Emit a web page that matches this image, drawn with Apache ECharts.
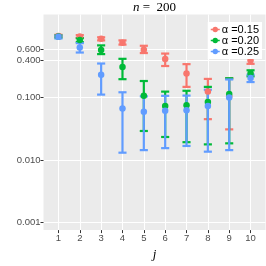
<!DOCTYPE html>
<html><head><meta charset="utf-8">
<script src="https://cdn.jsdelivr.net/npm/echarts@6/dist/echarts.min.js"></script>
<style>html,body{margin:0;padding:0;background:#fff}#c{width:266px;height:266px}</style>
</head><body><div id="c"></div>
<script>
const jValues = [1, 2, 3, 4, 5, 6, 7, 8, 9, 10];
const seriesNames = ['α =0.15', 'α =0.20', 'α =0.25'];
const seriesColors = ['#F8766D', '#00BA38', '#619CFF'];
const yTickValues = [0.001, 0.01, 0.1, 0.4, 0.6];

const a15_mid = [0.98, 0.96, 0.88, 0.76, 0.59, 0.417, 0.245, 0.126, 0.105, 0.40];
const a15_lo  = [0.95, 0.91, 0.83, 0.71, 0.52, 0.322, 0.149, 0.0452, 0.031, 0.349];
const a15_hi  = [1.02, 1.01, 0.93, 0.83, 0.68, 0.51, 0.345, 0.20, 0.205, 0.46];

const a20_mid = [0.96, 0.84, 0.58, 0.31, 0.107, 0.0735, 0.0753, 0.0856, 0.115, 0.245];
const a20_lo  = [0.92, 0.78, 0.50, 0.198, 0.0292, 0.0234, 0.0193, 0.0178, 0.0185, 0.22];
const a20_hi  = [1.00, 0.90, 0.69, 0.42, 0.185, 0.125, 0.129, 0.149, 0.205, 0.275];

const a25_mid = [0.95, 0.64, 0.234, 0.0668, 0.0594, 0.0615, 0.063, 0.0735, 0.101, 0.207];
const a25_lo  = [0.89, 0.53, 0.112, 0.0131, 0.0144, 0.0155, 0.0168, 0.0136, 0.0144, 0.178];
const a25_hi  = [0.99, 0.75, 0.353, 0.122, 0.105, 0.107, 0.108, 0.134, 0.196, 0.234];

const mids = [a15_mid, a20_mid, a25_mid];
const los = [a15_lo, a20_lo, a25_lo];
const his = [a15_hi, a20_hi, a25_hi];

function ebRender(params, api) {
  const x = api.value(0), lo = api.value(1), hi = api.value(2);
  const pLo = api.coord([x, lo]);
  const pHi = api.coord([x, hi]);
  const hw = Math.abs(api.size([0.38, 0], [x, lo])[0]) / 2;
  const style = { stroke: api.visual('color'), lineWidth: 2.2, fill: null };
  return {
    type: 'group',
    children: [
      { type: 'line', shape: { x1: pLo[0], y1: pLo[1], x2: pHi[0], y2: pHi[1] }, style: style },
      { type: 'line', shape: { x1: pLo[0] - hw, y1: pLo[1], x2: pLo[0] + hw, y2: pLo[1] }, style: style },
      { type: 'line', shape: { x1: pHi[0] - hw, y1: pHi[1], x2: pHi[0] + hw, y2: pHi[1] }, style: style }
    ]
  };
}

const series = [];
for (let s = 0; s < 3; s++) {
  series.push({
    type: 'custom',
    name: 'eb' + s,
    renderItem: ebRender,
    itemStyle: { color: seriesColors[s] },
    encode: { x: 0, y: [1, 2] },
    data: jValues.map((j, i) => [j, los[s][i], his[s][i]]),
    z: 2,
    silent: true,
    clip: false
  });
}
for (let s = 0; s < 3; s++) {
  series.push({
    type: 'scatter',
    name: seriesNames[s],
    symbol: 'circle',
    symbolSize: 6.5,
    itemStyle: { color: seriesColors[s], opacity: 1 },
    data: jValues.map((j, i) => [j, mids[s][i]]),
    z: 3,
    silent: true
  });
}

const legendIcon = 'path://M0,2.3h10v1.4h-10z M2,3a3,3 0 1,1 6,0a3,3 0 1,1 -6,0z';

const chart = echarts.init(document.getElementById('c'), null, { renderer: 'canvas' });
chart.setOption({
  animation: false,
  backgroundColor: '#fff',
  grid: { left: 43.5, right: 0.5, top: 14.5, bottom: 26.5, show: true, backgroundColor: '#EBEBEB', borderWidth: 0 },
  graphic: [{
    type: 'text', x: 154.5, y: 8,
    style: {
      text: '{i|n}{r| =  200}',
      textAlign: 'center', textVerticalAlign: 'middle',
      rich: {
        i: { fontFamily: 'Liberation Serif', fontStyle: 'italic', fontSize: 13, fill: '#000' },
        r: { fontFamily: 'Liberation Serif', fontSize: 13, fill: '#000' }
      }
    }
  }],
  legend: {
    orient: 'vertical', right: 4, top: 22,
    backgroundColor: '#fff', padding: [2, 3, 2, 3],
    itemWidth: 9, itemHeight: 6, itemGap: 0,
    textStyle: { fontSize: 11, color: '#000', fontFamily: 'Liberation Sans', lineHeight: 9.5, padding: [0, 0, 0, -3] },
    data: seriesNames.map((n, i) => ({ name: n, icon: legendIcon, itemStyle: { color: seriesColors[i], borderWidth: 0 } })),
    selectedMode: false
  },
  xAxis: {
    type: 'value', min: 0.3, max: 10.7,
    name: 'j', nameLocation: 'middle', nameGap: 9,
    nameTextStyle: { fontFamily: 'Liberation Serif', fontStyle: 'italic', fontSize: 13, color: '#000', verticalAlign: 'top' },
    axisLine: { show: false },
    axisTick: { show: true, customValues: jValues, length: 3, lineStyle: { color: '#333', width: 1 } },
    axisLabel: { customValues: jValues, color: '#4D4D4D', fontSize: 9.5, fontFamily: 'Liberation Sans', margin: 3 },
    splitLine: { show: true, lineStyle: { color: '#fff', width: 1 } }
  },
  yAxis: {
    type: 'log', logBase: 10, min: 0.00075, max: 2.16,
    axisLine: { show: false },
    axisTick: { show: true, customValues: yTickValues, length: 3, lineStyle: { color: '#333', width: 1 } },
    axisLabel: { customValues: yTickValues, color: '#4D4D4D', fontSize: 9.5, fontFamily: 'Liberation Sans', margin: 3,
      formatter: v => Number(v).toFixed(3) },
    splitLine: { show: true, lineStyle: { color: '#fff', width: 1 } }
  },
  series: series
});
</script></body></html>
